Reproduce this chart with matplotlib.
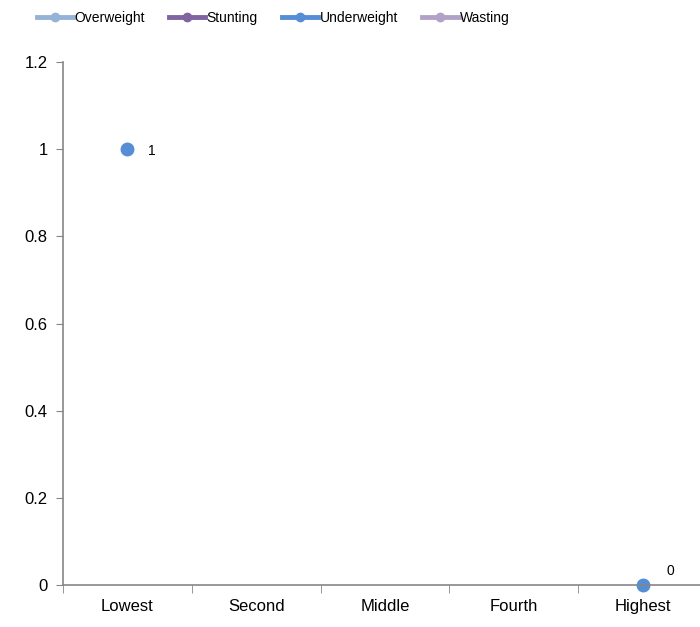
import numpy as np
import matplotlib.pyplot as plt
from matplotlib.ticker import FixedLocator, NullFormatter

plt.rcParams['font.family'] = ['Liberation Sans', 'DejaVu Sans']

# --- Data ---
quintiles = ["Lowest", "Second", "Middle", "Fourth", "Highest"]
overweight = [np.nan, np.nan, np.nan, np.nan, np.nan]
stunting = [np.nan, np.nan, np.nan, np.nan, np.nan]
underweight = [1, np.nan, np.nan, np.nan, 0]
wasting = [np.nan, np.nan, np.nan, np.nan, np.nan]

series = [
    ("Overweight", overweight, "#95B3D7"),
    ("Stunting", stunting, "#8064A2"),
    ("Underweight", underweight, "#558ED5"),
    ("Wasting", wasting, "#B3A2C7"),
]

fig = plt.figure(figsize=(7, 6.27), dpi=100)
ax = fig.add_axes([0.09, 0.067, 0.92, 0.834])

x = np.arange(len(quintiles))
handles = []
for name, vals, color in series:
    ax.plot(x, vals, linestyle="none", marker="o", markersize=9, color=color, clip_on=False)
    h, = ax.plot([], [], color=color, linewidth=3.5, marker="o", markersize=6, label=name)
    handles.append(h)

# value labels next to the points
for xi, v in zip(x, underweight):
    if np.isnan(v):
        continue
    if v == 0:
        ax.annotate(f"{v:g}", (xi, v), xytext=(17, 5), textcoords="offset points",
                    fontsize=10, ha="left", va="bottom")
    else:
        ax.annotate(f"{v:g}", (xi, v), xytext=(15, -1), textcoords="offset points",
                    fontsize=10, ha="left", va="center")

ax.set_xlim(-0.5, len(quintiles) - 0.5)
ax.set_ylim(0, 1.2)
ax.set_yticks([0, 0.2, 0.4, 0.6, 0.8, 1, 1.2])
ax.set_yticklabels(["0", "0.2", "0.4", "0.6", "0.8", "1", "1.2"])

ax.set_xticks(x)
ax.set_xticklabels(quintiles)
ax.xaxis.set_minor_locator(FixedLocator(np.arange(-0.5, len(quintiles), 1)))
ax.xaxis.set_minor_formatter(NullFormatter())
ax.tick_params(axis="x", which="major", length=0, pad=10, labelsize=12)
ax.tick_params(axis="x", which="minor", length=6, color="#868686", direction="out")
ax.tick_params(axis="y", length=5, color="#868686", labelsize=12, pad=6)

for side in ["top", "right"]:
    ax.spines[side].set_visible(False)
for side in ["left", "bottom"]:
    ax.spines[side].set_color("#868686")
    ax.spines[side].set_linewidth(1.2)

fig.legend(handles=handles, loc="upper left", bbox_to_anchor=(0.035, 1.003), ncol=4,
           frameon=False, fontsize=10, handlelength=2.6, columnspacing=1.75, handletextpad=0.1)

fig.savefig("out.png", dpi=100)
